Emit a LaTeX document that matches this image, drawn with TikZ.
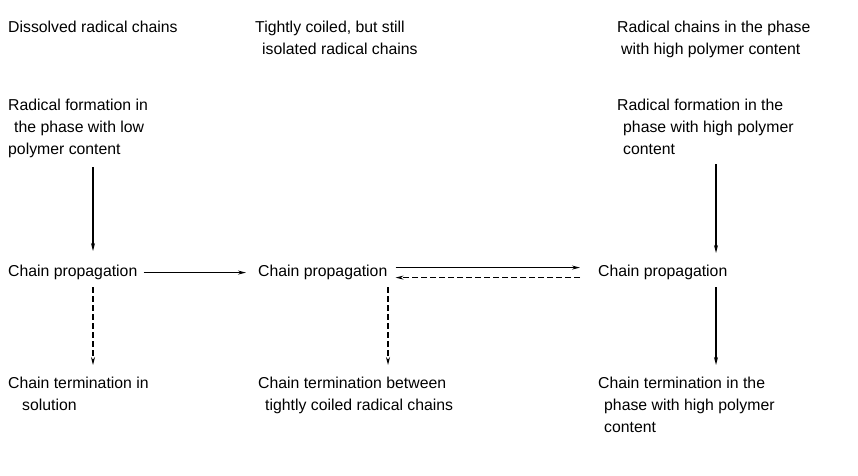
\documentclass[tikz,border=0pt]{standalone}
\usepackage{fontspec}
\setmainfont{Liberation Sans}
\usetikzlibrary{arrows.meta}
\tikzset{
  lbl/.style={anchor=north west, inner sep=0pt, align=left, font=\fontsize{15.8}{22}\selectfont},
  arr/.style={line width=1.1pt, -{Stealth[length=8pt,width=4pt]}},
  darr/.style={arr, dash pattern=on 6pt off 3pt}
}
\begin{document}
\begin{tikzpicture}[x=1pt,y=-1pt]
    \useasboundingbox (0,0) rectangle (858,475);
    % Draw the column headings
    \node[lbl] (hd1) at (8,21) {Dissolved radical chains};
    \node[lbl] (hd2) at (255,21) {Tightly coiled, but still\\\hspace{7pt}isolated radical chains};
    \node[lbl] (hd3) at (617,21) {Radical chains in the phase\\\hspace{4pt}with high polymer content};
    % Draw nodes for radical formation
    \node[lbl] (rf1) at (8,99) {Radical formation in\\\hspace{6pt}the phase with low\\polymer content};
    \node[lbl] (rf3) at (617,99) {Radical formation in the\\\hspace{6pt}phase with high polymer\\\hspace{6pt}content};
    % Draw nodes for chain propagation
    \node[lbl] (cp1) at (8,265) {Chain propagation};
    \node[lbl] (cp2) at (258,265) {Chain propagation};
    \node[lbl] (cp3) at (598,265) {Chain propagation};
    % Draw nodes for chain termination
    \node[lbl] (ct1) at (8,377) {Chain termination in\\\hspace{14pt}solution};
    \node[lbl] (ct2) at (258,377) {Chain termination between\\\hspace{7pt}tightly coiled radical chains};
    \node[lbl] (ct3) at (598,377) {Chain termination in the\\\hspace{6pt}phase with high polymer\\\hspace{6pt}content};

    % Draw all arrows
    \draw[arr] ([xshift=85pt,yshift=-9pt]rf1.south west) -- ([xshift=85pt,yshift=14pt]cp1.north west);
    \draw[arr] ([xshift=99pt,yshift=-9pt]rf3.south west) -- ([xshift=118pt,yshift=12pt]cp3.north west);
    \draw[arr] ([xshift=6pt]cp1.east) -- ([xshift=-12pt]cp2.west);
    \draw[arr] ([xshift=8pt,yshift=5pt]cp2.east) -- ([xshift=-18pt,yshift=5pt]cp3.west);
    \draw[darr] ([xshift=-18pt,yshift=-5pt]cp3.west) -- ([xshift=8pt,yshift=-5pt]cp2.east);
    \draw[darr] ([xshift=85pt,yshift=-7pt]cp1.south west) -- ([xshift=85pt,yshift=12pt]ct1.north west);
    \draw[darr] ([xshift=130pt,yshift=-7pt]cp2.south west) -- ([xshift=130pt,yshift=12pt]ct2.north west);
    \draw[arr, line width=1.6pt] ([xshift=118pt,yshift=-7pt]cp3.south west) -- ([xshift=118pt,yshift=12pt]ct3.north west);

\end{tikzpicture}
\end{document}
